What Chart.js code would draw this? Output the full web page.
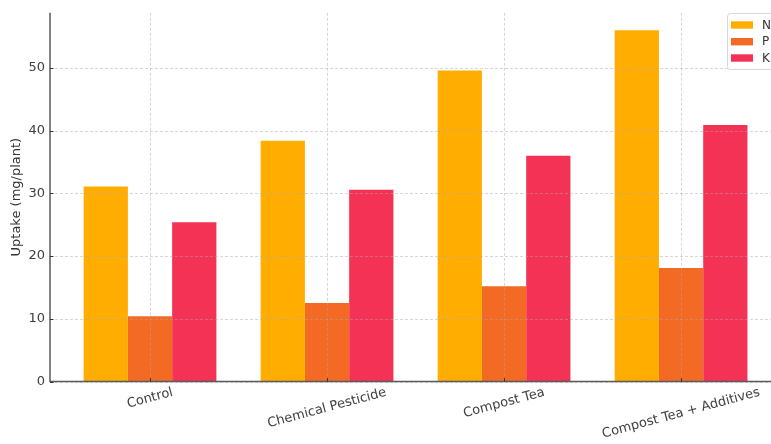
<!DOCTYPE html>
<html>
<head>
<meta charset="utf-8">
<script src="https://cdn.jsdelivr.net/npm/chart.js@4.4.1/dist/chart.umd.min.js"></script>
<style>
  html, body { margin: 0; padding: 0; background: #ffffff; }
  #wrap { width: 771px; height: 444px; }
</style>
</head>
<body>
<div id="wrap"><canvas id="c" width="771" height="444"></canvas></div>
<script>
const categories = ['Control', 'Chemical Pesticide', 'Compost Tea', 'Compost Tea + Additives'];
const nValues = [31.1, 38.4, 49.6, 56.0];
const pValues = [10.4, 12.5, 15.2, 18.1];
const kValues = [25.4, 30.6, 36.0, 40.9];
const seriesNames = ['N', 'P', 'K'];
const yTicks = [0, 10, 20, 30, 40, 50];
const yTitle = 'Uptake (mg/plant)';

const colors = ['#FFAD00', '#F26A24', '#F43256'];
const FONT = '"DejaVu Sans", sans-serif';

function toPoints(arr) { return arr.map((v, i) => ({ x: i, y: v })); }

const axesPlugin = {
  id: 'axesPlugin',
  afterDatasetsDraw(chart) {
    const { ctx, chartArea: a, scales: { x, y } } = chart;
    ctx.save();
    ctx.strokeStyle = 'rgba(170,170,170,0.6)';
    ctx.lineWidth = 0.8;
    ctx.setLineDash([3, 2]);
    categories.forEach((c, i) => {
      const px = Math.round(x.getPixelForValue(i)) + 0.5;
      ctx.beginPath(); ctx.moveTo(px, a.top); ctx.lineTo(px, a.bottom); ctx.stroke();
    });
    yTicks.forEach(t => {
      const py = Math.round(y.getPixelForValue(t)) + 0.5;
      ctx.beginPath(); ctx.moveTo(a.left, py); ctx.lineTo(a.right, py); ctx.stroke();
    });
    ctx.setLineDash([]);
    ctx.strokeStyle = '#5a5a5a';
    ctx.lineWidth = 1.5;
    ctx.beginPath();
    ctx.moveTo(a.left, a.top); ctx.lineTo(a.left, a.bottom); ctx.lineTo(a.right, a.bottom);
    ctx.stroke();
    ctx.lineWidth = 1;
    ctx.strokeStyle = '#333';
    categories.forEach((c, i) => {
      const px = Math.round(x.getPixelForValue(i)) + 0.5;
      ctx.beginPath(); ctx.moveTo(px, a.bottom); ctx.lineTo(px, a.bottom - 3.5); ctx.stroke();
    });
    yTicks.forEach(t => {
      const py = Math.round(y.getPixelForValue(t)) + 0.5;
      ctx.beginPath(); ctx.moveTo(a.left, py); ctx.lineTo(a.left + 3.5, py); ctx.stroke();
    });
    ctx.font = '13px ' + FONT;
    ctx.fillStyle = '#404040';
    ctx.textAlign = 'center';
    ctx.textBaseline = 'middle';
    const th = 15 * Math.PI / 180;
    categories.forEach((c, i) => {
      const px = x.getPixelForValue(i);
      const w = ctx.measureText(c).width;
      const cy = a.bottom + 4.5 + (w * Math.sin(th) + 13 * Math.cos(th)) / 2;
      ctx.save();
      ctx.translate(px, cy);
      ctx.rotate(-th);
      ctx.fillText(c, 0, 0);
      ctx.restore();
    });
    const lx = 727, ly = 13.5, lw = 70, lh = 56;
    ctx.fillStyle = 'rgba(255,255,255,0.85)';
    ctx.strokeStyle = '#d8d8d8';
    ctx.lineWidth = 1;
    ctx.beginPath();
    if (ctx.roundRect) ctx.roundRect(lx + 0.5, ly, lw, lh, 3); else ctx.rect(lx + 0.5, ly, lw, lh);
    ctx.fill(); ctx.stroke();
    ctx.font = '12px ' + FONT;
    ctx.textAlign = 'left';
    const centers = [25, 41.7, 58];
    chart.data.datasets.forEach((ds, i) => {
      ctx.fillStyle = ds.backgroundColor;
      ctx.fillRect(731, centers[i] - 3.7, 22, 7.4);
      ctx.fillStyle = '#333';
      ctx.fillText(ds.label, 762, centers[i] + 0.5);
    });
    ctx.restore();
  }
};

new Chart(document.getElementById('c'), {
  type: 'bar',
  data: {
    datasets: [
      { label: seriesNames[0], data: toPoints(nValues), backgroundColor: colors[0] },
      { label: seriesNames[1], data: toPoints(pValues), backgroundColor: colors[1] },
      { label: seriesNames[2], data: toPoints(kValues), backgroundColor: colors[2] }
    ]
  },
  options: {
    responsive: false,
    animation: false,
    datasets: { bar: { categoryPercentage: 0.75, barPercentage: 1.0, borderWidth: 0 } },
    layout: { padding: { top: 10, right: 0, left: 0, bottom: 0 } },
    plugins: { legend: { display: false }, tooltip: { enabled: false } },
    scales: {
      x: {
        type: 'linear',
        offset: false,
        min: -0.565,
        max: 3.508,
        grid: { display: false, offset: false },
        border: { display: false },
        ticks: { display: false },
        afterBuildTicks(s) { s.ticks = categories.map((c, i) => ({ value: i })); },
        afterFit(s) { s.height = 62.5; }
      },
      y: {
        type: 'linear',
        min: 0,
        max: 58.8,
        grid: { display: false, drawTicks: false },
        border: { display: false },
        ticks: { stepSize: 10, padding: 5, color: '#404040', font: { family: FONT, size: 13 } },
        afterBuildTicks(s) { s.ticks = yTicks.map(v => ({ value: v })); },
        title: { display: true, text: yTitle, color: '#333', font: { family: FONT, size: 13 }, padding: { top: 9, bottom: 0 } },
        afterFit(s) { s.width = 50; }
      }
    }
  },
  plugins: [axesPlugin]
});
</script>
</body>
</html>
